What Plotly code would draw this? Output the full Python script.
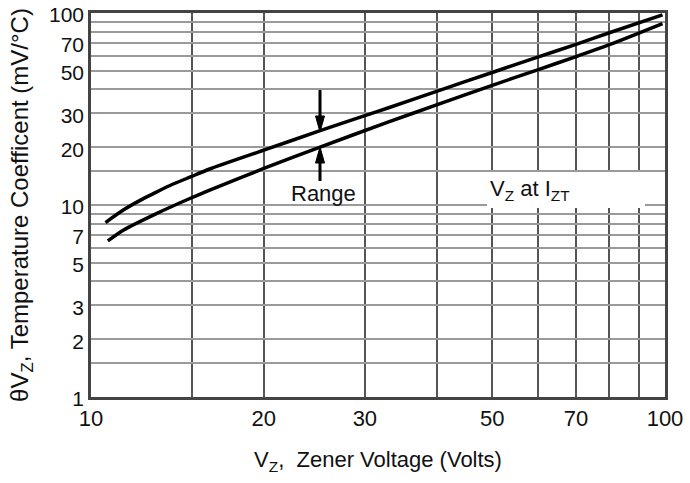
import plotly.graph_objects as go

# ---- data (log-log) ----
upper_vz = [10.6, 11.4, 12.2, 12.8, 13.7, 14.9, 16.1, 20, 25, 30, 33, 40, 50, 60, 70, 80, 99]
upper_tc = [8.1, 9.44, 10.6, 11.4, 12.6, 14.0, 15.4, 19.3, 24.3, 29.2, 32.1, 39.1, 49.0, 58.9, 68.7, 78.9, 97.7]

lower_vz = [10.7, 11.4, 13.0, 14.9, 16.1, 20, 25, 33, 40, 50, 60, 70, 80, 99]
lower_tc = [6.5, 7.41, 9.02, 10.84, 11.97, 15.5, 19.95, 27.1, 33.2, 42.0, 50.6, 59.3, 68.4, 88.1]

x_tickvals = [10, 15, 20, 30, 40, 50, 60, 70, 80, 90, 100]
x_ticktext = ["10", "", "20", "30", "", "50", "", "70", "", "", "100"]
y_tickvals = [1, 1.5, 2, 3, 4, 5, 6, 7, 8, 9, 10, 15, 20, 30, 40, 50, 60, 70, 80, 90, 100]
y_ticktext = ["1", "", "2", "3", "", "5", "", "7", "", "", "10", "", "20", "30", "", "50", "", "70", "", "", "100"]

FONT = "Arial, Liberation Sans, sans-serif"

fig = go.Figure()
fig.add_trace(go.Scatter(x=upper_vz, y=upper_tc, mode="lines",
                         line=dict(color="black", width=3.5, shape="spline", smoothing=0.8),
                         showlegend=False, hoverinfo="skip"))
fig.add_trace(go.Scatter(x=lower_vz, y=lower_tc, mode="lines",
                         line=dict(color="black", width=3.5, shape="spline", smoothing=0.8),
                         showlegend=False, hoverinfo="skip"))

FIG_W, FIG_H = 690, 483
# plot area in pixels
L, R, T, B = 91, 665, 13, 397
W, H = R - L, B - T
def px(xp):
    return (xp - L) / W
def py(yp):
    return (B - yp) / H

shapes = []
# "Range" arrows
ax_x = px(320)
hw = 4.5 / W
# top arrow (pointing down)
shapes.append(dict(type="line", xref="paper", yref="paper", x0=ax_x, x1=ax_x,
                   y0=py(90), y1=py(118), line=dict(color="black", width=3)))
shapes.append(dict(type="path", xref="paper", yref="paper",
                   path=f"M {ax_x-hw},{py(116)} L {ax_x+hw},{py(116)} L {ax_x},{py(132)} Z",
                   fillcolor="black", line=dict(color="black", width=1)))
# bottom arrow (pointing up)
shapes.append(dict(type="line", xref="paper", yref="paper", x0=ax_x, x1=ax_x,
                   y0=py(181), y1=py(160), line=dict(color="black", width=3)))
shapes.append(dict(type="path", xref="paper", yref="paper",
                   path=f"M {ax_x-hw},{py(163)} L {ax_x+hw},{py(163)} L {ax_x},{py(147)} Z",
                   fillcolor="black", line=dict(color="black", width=1)))
# white box behind "Vz at Izt"
shapes.append(dict(type="rect", xref="paper", yref="paper", layer="above",
                   x0=px(487), x1=px(645), y0=py(208), y1=py(172),
                   fillcolor="white", line=dict(width=0)))

annotations = [
    dict(text="Range", xref="paper", yref="paper", x=px(323), y=py(193),
         xanchor="center", yanchor="middle", showarrow=False,
         font=dict(family=FONT, size=22, color="#111")),
    dict(text="V<sub>Z</sub> at I<sub>ZT</sub>", xref="paper", yref="paper",
         x=px(488), y=py(190), xanchor="left", yanchor="middle", showarrow=False,
         font=dict(family=FONT, size=22, color="#111")),
]

fig.update_layout(
    width=FIG_W, height=FIG_H,
    margin=dict(l=L, r=FIG_W - R, t=T, b=FIG_H - B),
    paper_bgcolor="white", plot_bgcolor="white",
    font=dict(family=FONT, color="#111"),
    shapes=shapes, annotations=annotations,
    showlegend=False,
)
fig.update_xaxes(
    type="log", range=[1, 2], automargin=False,
    tickvals=x_tickvals, ticktext=x_ticktext,
    tickfont=dict(size=22, family=FONT, color="#111"),
    ticks="", showgrid=True, gridcolor="#555", gridwidth=1.6,
    showline=True, linecolor="#444", linewidth=2.5, mirror=True,
    zeroline=False, ticklabeloverflow="allow",
    title=dict(text="V<sub>Z</sub>,&nbsp; Zener Voltage (Volts)",
               font=dict(size=22, family=FONT, color="#111"), standoff=22),
)
fig.update_yaxes(
    type="log", range=[0, 2], automargin=False,
    tickvals=y_tickvals, ticktext=y_ticktext,
    tickfont=dict(size=21, family=FONT, color="#111"),
    ticks="", showgrid=True, gridcolor="#9a9a9a", gridwidth=1.6,
    showline=True, linecolor="#444", linewidth=2.5, mirror=True,
    zeroline=False, ticklabeloverflow="allow", ticklabelshift=2,
    title=dict(text="θV<sub>Z</sub>, Temperature Coefficent (mV/°C)",
               font=dict(size=24, family=FONT, color="#111"), standoff=14),
)

# remove the browser's default 8px page margin so the figure fills the window
fig.write_html("out.html", config={"displayModeBar": False},
               post_script="document.body.style.margin='0px';")
